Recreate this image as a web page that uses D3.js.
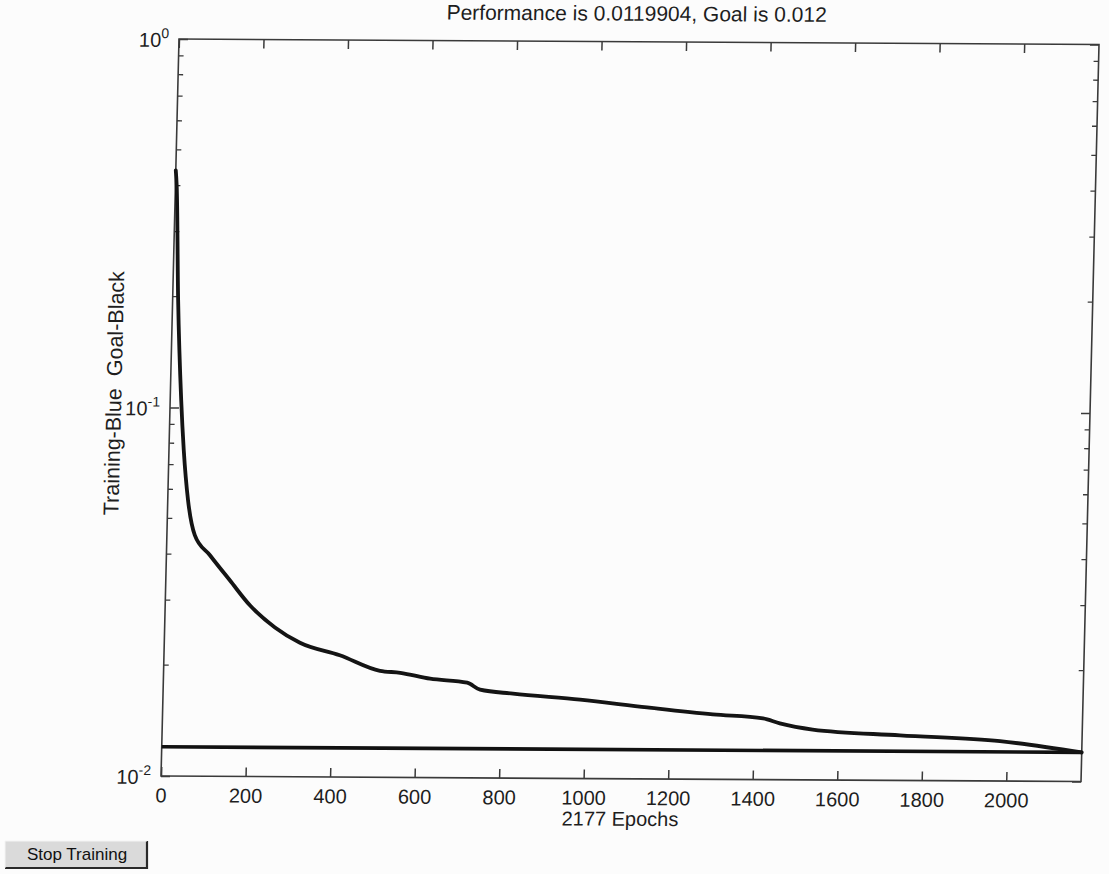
<!DOCTYPE html>
<html>
<head>
<meta charset="utf-8">
<script src="https://cdn.jsdelivr.net/npm/d3@7"></script>
<style>
  html, body { margin: 0; padding: 0; background: #fcfcfc; }
  svg { display: block; }
</style>
</head>
<body>
<svg id="chart" width="1109" height="874"></svg>
<script>
// Training record: epoch and mean squared error
const epochs = [0, 3, 13, 26, 35, 48, 66, 103, 152, 201, 261, 321, 416, 512, 560, 631, 719, 750, 828, 987, 1146, 1302, 1421, 1461, 1539, 1746, 1983, 2177];
const performance = [0.44, 0.40, 0.196, 0.105, 0.0767, 0.0561, 0.0451, 0.0398, 0.034, 0.0291, 0.0254, 0.0231, 0.0214, 0.01945, 0.01923, 0.01855, 0.01812, 0.01735, 0.01695, 0.01637, 0.01563, 0.0150, 0.01466, 0.01422, 0.0137, 0.01325, 0.01283, 0.0119904];
const goal = 0.012;
const lastEpoch = 2177;

const xTickValues = [0, 200, 400, 600, 800, 1000, 1200, 1400, 1600, 1800, 2000];
const yTickValues = [0.01, 0.1, 1];
const yTickExponents = ["-2", "-1", "0"];

const titleText = "Performance is 0.0119904, Goal is 0.012";
const xLabelText = lastEpoch + " Epochs";
const yLabelText = "Training-Blue  Goal-Black";
const buttonText = "Stop Training";

const W = 920, H = 737;
const FONT = "'Liberation Sans', Arial, Helvetica, sans-serif";
const INK = "#1e1e1e";
const AXIS = "#3a3a3a";

const svg = d3.select("#chart");

// The printed figure sits slightly sheared on the page
const g = svg.append("g")
  .attr("transform", "matrix(1,0.006,-0.0244,1,179,39)");

const x = d3.scaleLinear().domain([0, lastEpoch]).range([0, W]);
const y = d3.scaleLog().domain([0.01, 1]).range([H, 0]);

// bottom axis with inward ticks
const xAxis = g.append("g")
  .attr("transform", `translate(0,${H})`)
  .call(d3.axisBottom(x).tickValues(xTickValues).tickFormat(d3.format("d"))
    .tickSizeInner(-9).tickSizeOuter(0).tickPadding(12));
xAxis.select(".domain").remove();
xAxis.selectAll(".tick line").attr("stroke", AXIS).attr("stroke-width", 1.5);
xAxis.selectAll(".tick text")
  .attr("font-family", FONT).attr("font-size", 20).attr("fill", INK);

// top axis, ticks only
const xTop = g.append("g")
  .call(d3.axisTop(x).tickValues(xTickValues).tickSizeInner(-9).tickSizeOuter(0).tickFormat(""));
xTop.select(".domain").remove();
xTop.selectAll(".tick line").attr("stroke", AXIS).attr("stroke-width", 1.5);

// left and right axes: decade ticks
const yLeft = g.append("g")
  .call(d3.axisLeft(y).tickValues(yTickValues).tickSizeInner(-9).tickSizeOuter(0).tickFormat(""));
yLeft.select(".domain").remove();
yLeft.selectAll(".tick line").attr("stroke", AXIS).attr("stroke-width", 1.5);

const yRight = g.append("g")
  .attr("transform", `translate(${W},0)`)
  .call(d3.axisRight(y).tickValues(yTickValues).tickSizeInner(-9).tickSizeOuter(0).tickFormat(""));
yRight.select(".domain").remove();
yRight.selectAll(".tick line").attr("stroke", AXIS).attr("stroke-width", 1.5);

// minor log ticks
const minor = [];
[0.01, 0.1].forEach(d => { for (let k = 2; k <= 9; k++) minor.push(d * k); });
g.append("g").selectAll("line").data(minor).join("line")
  .attr("x1", 0).attr("x2", 5)
  .attr("y1", d => y(d)).attr("y2", d => y(d))
  .attr("stroke", AXIS).attr("stroke-width", 1.3);
g.append("g").selectAll("line").data(minor).join("line")
  .attr("x1", W).attr("x2", W - 5)
  .attr("y1", d => y(d)).attr("y2", d => y(d))
  .attr("stroke", AXIS).attr("stroke-width", 1.3);

// decade labels with superscript exponents
const yLab = g.append("g").selectAll("text").data(yTickValues).join("text")
  .attr("x", -10)
  .attr("y", d => y(d) + 8)
  .attr("text-anchor", "end")
  .attr("font-family", FONT).attr("font-size", 20).attr("fill", INK);
yLab.append("tspan").text("10");
yLab.append("tspan")
  .attr("font-size", 14)
  .attr("dy", -9)
  .text((d, i) => yTickExponents[i]);

// plot box
g.append("rect")
  .attr("x", 0).attr("y", 0).attr("width", W).attr("height", H)
  .attr("fill", "none").attr("stroke", AXIS).attr("stroke-width", 1.6);

// goal line
g.append("line")
  .attr("x1", x(0)).attr("x2", x(lastEpoch))
  .attr("y1", y(goal)).attr("y2", y(goal))
  .attr("stroke", "#111").attr("stroke-width", 3.6);

// training curve
const line = d3.line()
  .x((d, i) => x(epochs[i]))
  .y(d => y(d))
  .curve(d3.curveMonotoneX);
g.append("path")
  .datum(performance)
  .attr("d", line)
  .attr("fill", "none")
  .attr("stroke", "#141414")
  .attr("stroke-width", 3.8)
  .attr("stroke-linejoin", "round")
  .attr("stroke-linecap", "round");

// titles
g.append("text")
  .attr("x", W / 2 - 3).attr("y", -21)
  .attr("text-anchor", "middle")
  .attr("font-family", FONT).attr("font-size", 21).attr("fill", INK)
  .text(titleText);

g.append("text")
  .attr("x", W / 2).attr("y", H + 47)
  .attr("text-anchor", "middle")
  .attr("font-family", FONT).attr("font-size", 20).attr("fill", INK)
  .text(xLabelText);

g.append("text")
  .attr("transform", `translate(-49,${H / 2 - 14}) rotate(-90)`)
  .attr("text-anchor", "middle")
  .attr("font-family", FONT).attr("font-size", 21.5).attr("fill", INK)
  .attr("xml:space", "preserve")
  .style("white-space", "pre")
  .text(yLabelText);

// stop button
const btn = svg.append("g");
btn.append("rect")
  .attr("x", 5).attr("y", 841).attr("width", 142).attr("height", 27)
  .attr("fill", "#dadada");
btn.append("path")
  .attr("d", "M5,868 L147,868 L147,841")
  .attr("fill", "none").attr("stroke", "#2a2a2a").attr("stroke-width", 2.2);
btn.append("path")
  .attr("d", "M5,868 L5,841 L147,841")
  .attr("fill", "none").attr("stroke", "#f4f4f4").attr("stroke-width", 1);
btn.append("text")
  .attr("x", 77).attr("y", 860)
  .attr("text-anchor", "middle")
  .attr("font-family", FONT).attr("font-size", 17).attr("fill", "#111")
  .text(buttonText);
</script>
</body>
</html>
